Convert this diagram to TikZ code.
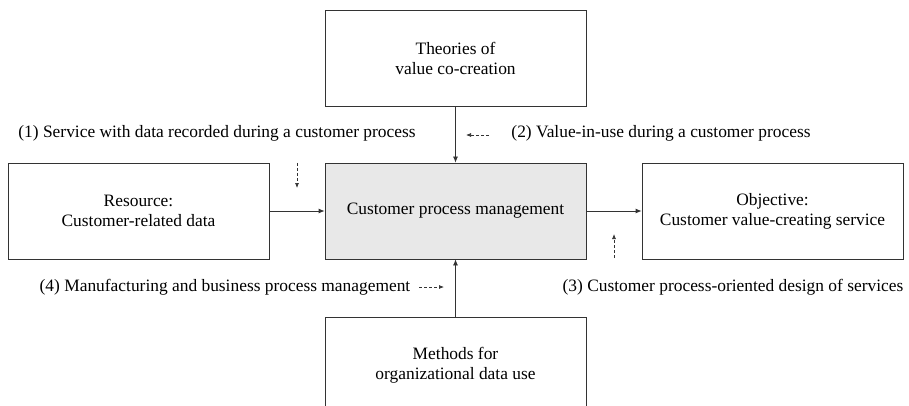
\documentclass[tikz,border=0pt]{standalone}
\usepackage{fontspec}
\setmainfont{Liberation Serif}
\usetikzlibrary{arrows.meta}
\begin{document}
\begin{tikzpicture}[x=1pt,y=-1pt,
  box/.style={draw=black!80, line width=0.8pt, minimum width=261pt, minimum height=96pt, align=center, inner sep=0pt, font=\fontsize{17.4}{20}\selectfont},
  lbl/.style={font=\fontsize{17.4}{20}\selectfont, inner sep=0pt},
  conn/.style={draw=black!80, line width=0.8pt, -{Latex[length=6pt,width=5pt]}},
  dconn/.style={draw=black!80, line width=0.7pt, dashed, dash pattern=on 3pt off 2pt, -{Latex[length=5pt,width=4pt]}}]
\useasboundingbox (0,0) rectangle (909,406);
\clip (0,0) rectangle (909,406);
\node[box] (top) at (455.5,58.5) {Theories of\\value co-creation};
\node[box] (left) at (138.5,211) {Resource:\\Customer-related data};
\node[box, fill=black!9] (mid) at (455.5,211) {Customer process management};
\node[box] (right) at (772.5,211) {Objective:\\Customer value-creating service};
\node[box] (bot) at (455.5,365) {Methods for\\organizational data use};
\draw[conn] (top) -- (mid);
\draw[conn] (left) -- (mid);
\draw[conn] (mid) -- (right);
\draw[conn] (bot) -- (mid);
\node[lbl] (l1) at (217,133) {(1) Service with data recorded during a customer process};
\node[lbl] (l2) at (661,133) {(2) Value-in-use during a customer process};
\node[lbl] (l3) at (733,287) {(3) Customer process-oriented design of services};
\node[lbl] (l4) at (225,287) {(4) Manufacturing and business process management};
\coordinate (d1a) at (297,163); \coordinate (d1b) at (297,188);
\coordinate (d2a) at (489,135); \coordinate (d2b) at (466,135);
\coordinate (d3a) at (614,258); \coordinate (d3b) at (614,234);
\coordinate (d4a) at (419,287); \coordinate (d4b) at (444,287);
\draw[dconn] (d1a) -- (d1b);
\draw[dconn] (d2a) -- (d2b);
\draw[dconn] (d3a) -- (d3b);
\draw[dconn] (d4a) -- (d4b);
\end{tikzpicture}
\end{document}
